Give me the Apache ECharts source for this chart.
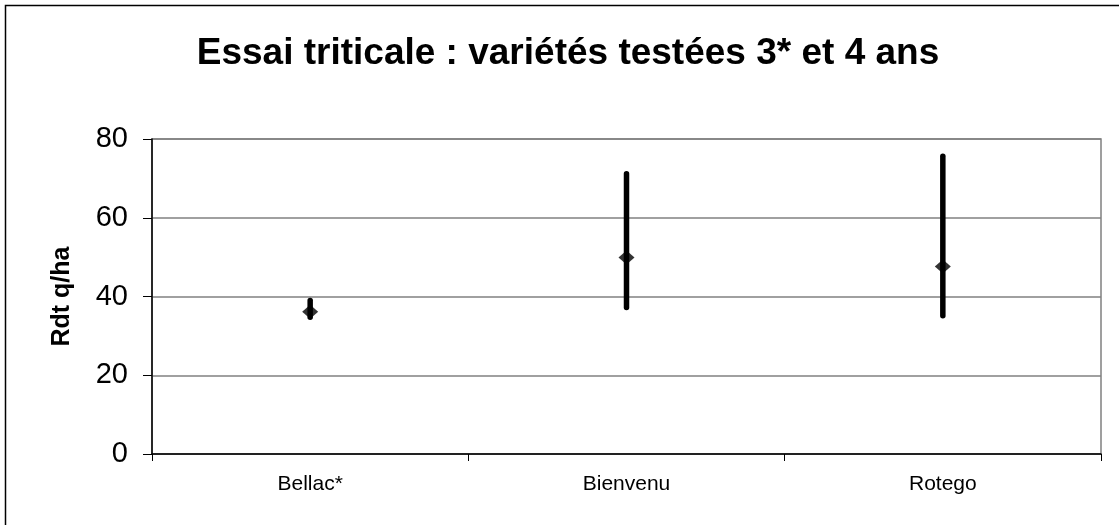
<!DOCTYPE html>
<html>
<head>
<meta charset="utf-8">
<script src="https://cdn.jsdelivr.net/npm/echarts@6/dist/echarts.min.js"></script>
<style>
  html, body { margin: 0; padding: 0; background: #fff; }
  #chart { width: 1119px; height: 525px; }
</style>
</head>
<body>
<div id="chart"></div>
<script>
"use strict";

const categories = ["Bellac*", "Bienvenu", "Rotego"];
const lows = [34.7, 37.2, 35.1];
const highs = [39.0, 71.2, 75.6];
const means = [36.1, 49.9, 47.6];
const font = "'Liberation Sans', Arial, sans-serif";

const chart = echarts.init(document.getElementById("chart"), null, { renderer: "canvas" });

chart.setOption({
  animation: false,
  backgroundColor: "#fff",
  title: {
    text: "Essai triticale : variétés testées 3* et 4 ans",
    left: 563, top: 30, textAlign: "center",
    textStyle: { fontFamily: font, fontSize: 37, fontWeight: "bold", color: "#000" },
  },
  graphic: [{
    type: "rect", shape: { x: 5.5, y: 5.5, width: 1200, height: 600 },
    style: { fill: null, stroke: "#000", lineWidth: 1.5 }, silent: true,
  }],
  grid: { left: 152, right: 18, top: 139, bottom: 71, show: true, borderColor: "#808080", borderWidth: 1.5 },
  xAxis: {
    type: "category", data: categories, boundaryGap: true,
    axisLine: { lineStyle: { color: "#000", width: 1.5 } },
    axisTick: { show: true, length: 7, lineStyle: { color: "#000" } },
    axisLabel: { fontFamily: font, fontSize: 21, color: "#000", margin: 20 },
  },
  yAxis: {
    type: "value", min: 0, max: 80, interval: 20,
    name: "Rdt q/ha", nameLocation: "middle", nameRotate: 90, nameGap: 77,
    nameTextStyle: { fontFamily: font, fontSize: 25, fontWeight: "bold", color: "#000" },
    axisLine: { show: true, lineStyle: { color: "#000", width: 1.5 } },
    axisTick: { show: true, length: 9, lineStyle: { color: "#000" } },
    axisLabel: { fontFamily: font, fontSize: 29, color: "#000", margin: 24 },
    splitLine: { lineStyle: { color: "#808080", width: 1.5 } },
  },
  series: [
    {
      type: "custom",
      data: categories.map((c, i) => [i, lows[i], highs[i]]),
      renderItem: (params, api) => {
        const a = api.coord([api.value(0), api.value(1)]);
        const b = api.coord([api.value(0), api.value(2)]);
        return {
          type: "line",
          shape: { x1: a[0], y1: a[1], x2: b[0], y2: b[1] },
          style: { stroke: "#000", lineWidth: 5.5, lineCap: "round" },
        };
      },
      z: 3,
    },
    {
      type: "scatter",
      data: categories.map((c, i) => [i, means[i]]),
      symbol: "diamond", symbolSize: [16, 14],
      itemStyle: { color: "#000" },
      z: 4,
    },
  ],
});
</script>
</body>
</html>
